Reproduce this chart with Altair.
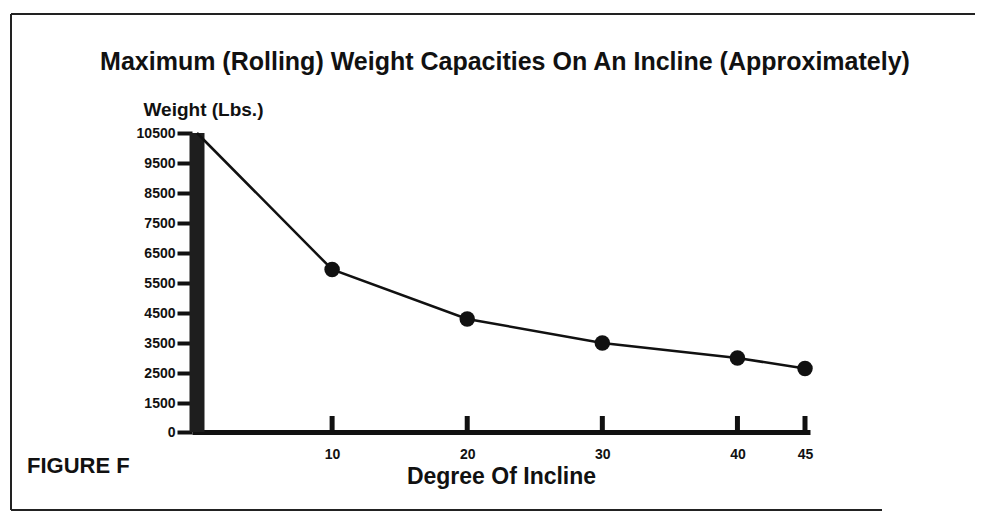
import altair as alt
import pandas as pd

# ---- data ----
degrees = [0, 10, 20, 30, 40, 45]
weights = [10500, 5950, 4300, 3500, 3000, 2650]
y_tick_values = [0, 1500, 2500, 3500, 4500, 5500, 6500, 7500, 8500, 9500, 10500]
x_tick_values = [10, 20, 30, 40, 45]
title_text = "Maximum (Rolling) Weight Capacities On An Incline (Approximately)"
y_title = "Weight (Lbs.)"
x_title = "Degree Of Incline"
figure_label = "FIGURE F"

W, H = 618, 299
FONT = "Liberation Sans"
INK = "#111111"

df = pd.DataFrame({"degree": degrees, "weight": weights})
ticks_df = pd.DataFrame({"degree": x_tick_values})
one = pd.DataFrame({"k": [0]})

x_scale = alt.Scale(domain=[0, 45], nice=False, zero=False)
# the original axis places 0 one step below 1500 (piecewise scale)
y_scale = alt.Scale(domain=[0, 1500, 10500], range=[H, H - 29, 0], nice=False, zero=False)

x_axis = alt.Axis(
    values=x_tick_values, format="d", title=x_title,
    titleFont=FONT, titleFontSize=23, titleFontWeight="bold", titleColor=INK,
    titleY=51, titleBaseline="alphabetic",
    labelFont=FONT, labelFontSize=14, labelFontWeight="bold", labelColor=INK,
    labelPadding=15, tickSize=0, domainWidth=5, domainColor=INK, grid=False,
)
y_axis = alt.Axis(
    values=y_tick_values, format="d", title=y_title,
    titleFont=FONT, titleFontSize=19, titleFontWeight="bold", titleColor=INK,
    titleAngle=0, titleX=-49, titleY=-18, titleAlign="left", titleBaseline="alphabetic",
    labelFont=FONT, labelFontSize=14, labelFontWeight="bold", labelColor=INK,
    labelPadding=2, tickSize=15, tickWidth=4, tickColor=INK, domain=False, grid=False,
)

x_enc = alt.X("degree:Q", scale=x_scale, axis=x_axis)
y_enc = alt.Y("weight:Q", scale=y_scale, axis=y_axis)

# scanned page frame: top, left and bottom edges only
frame_top = alt.Chart(one).mark_rule(color="#222222", strokeWidth=2).encode(
    x=alt.value(-181), x2=alt.value(800), y=alt.value(-119)
)
frame_left = alt.Chart(one).mark_rule(color="#222222", strokeWidth=2).encode(
    x=alt.value(-181), y=alt.value(-119), y2=alt.value(377)
)
frame_bottom = alt.Chart(one).mark_rule(color="#222222", strokeWidth=2).encode(
    x=alt.value(-181), x2=alt.value(690), y=alt.value(377)
)

bar = alt.Chart(df).transform_filter("datum.degree == 0").mark_bar(
    orient="vertical", size=15, color="#1e1e1e"
).encode(x=x_enc, y=y_enc)

line = alt.Chart(df).mark_line(color=INK, strokeWidth=2.5).encode(x=x_enc, y=y_enc)

points = alt.Chart(df).transform_filter("datum.degree > 0").mark_circle(
    size=240, color=INK, opacity=1
).encode(x=x_enc, y=y_enc)

inner_ticks = alt.Chart(ticks_df).mark_rule(strokeWidth=5, color=INK).encode(
    x=alt.X("degree:Q", scale=x_scale, axis=x_axis), y=alt.value(H), y2=alt.value(H - 16)
)

title = alt.Chart(one).mark_text(
    text=title_text, font=FONT, fontSize=25, fontWeight="bold", color=INK,
    align="center", baseline="alphabetic"
).encode(x=alt.value(313), y=alt.value(-63))

fig_label = alt.Chart(one).mark_text(
    text=figure_label, font=FONT, fontSize=22, fontWeight="bold", color=INK,
    align="left", baseline="alphabetic"
).encode(x=alt.value(-165), y=alt.value(340))

chart = alt.layer(
    frame_top, frame_left, frame_bottom, bar, line, points, inner_ticks, title, fig_label
).properties(
    width=W, height=H,
    autosize=alt.AutoSizeParams(type="none"),
    padding={"left": 184, "top": 125, "right": 165, "bottom": 91},
    background="white",
).configure_view(strokeOpacity=0)

chart.save("out.html", embed_options={"renderer": "svg", "actions": False})
